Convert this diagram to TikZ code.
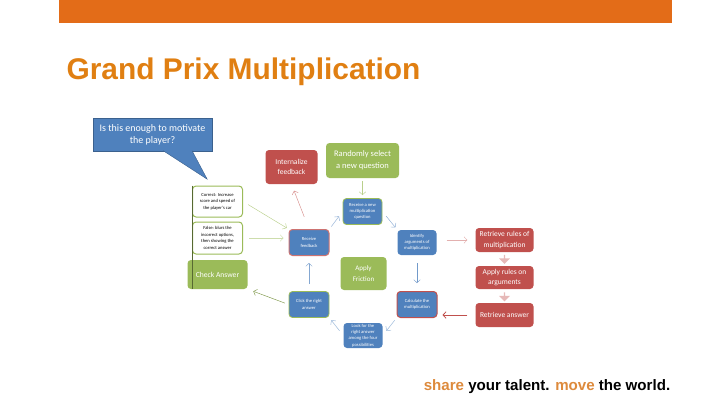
\documentclass[tikz,border=0pt]{standalone}
\usepackage{fontspec}
\setmainfont{Carlito}
\newfontfamily\arialfont{Liberation Sans}
\usepackage{xcolor}
\usetikzlibrary{calc, shapes, shapes.arrows, arrows.meta, positioning}
\definecolor{bannerorange}{HTML}{E36C18}
\definecolor{titleorange}{HTML}{E07F12}
\definecolor{tagorange}{HTML}{DD8A3C}
\definecolor{officeblue}{HTML}{4F81BD}
\definecolor{officered}{HTML}{C0504D}
\definecolor{officegreen}{HTML}{9BBB59}
\definecolor{palered}{HTML}{E6B9B8}
\tikzset{
    every node/.style = {node distance=0em, align=center, inner sep=0em},
    textnode/.style  = {draw=none, fill=none, rectangle, font=\arialfont\bfseries},
    roundnode/.style = {draw=none, rectangle, rounded corners=0.35em, text=white, font=\fontsize{8.5}{11}\selectfont},
    greennode/.style = {roundnode, fill=officegreen},
    rednode/.style   = {roundnode, fill=officered, font=\fontsize{7.5}{10.5}\selectfont},
    bluenode/.style  = {roundnode, fill=officeblue, font=\fontsize{4.6}{6.2}\selectfont},
    whitenode/.style = {roundnode, draw=officegreen, line width=1pt, fill=white, text=black, font=\fontsize{4.6}{6.4}\selectfont},
    blockarrow/.style = {single arrow, fill=palered, shape border rotate=270, single arrow head extend=1.5pt, minimum width=11pt, minimum height=9pt},
    connect/.style = {-{Straight Barb[length=3pt,width=6.5pt]}, line width=0.45pt},
    calloutline/.style = {draw=officeblue!75!black, fill=officeblue},
}
\begin{document}
\begin{tikzpicture}
    \useasboundingbox (0pt,0pt) rectangle (720pt,-405pt);
    \node [draw=none, fill=bannerorange, name=Banner, minimum width=613pt, minimum height=23pt] at (365.5pt,-11.5pt) {};
    \node [textnode, name=Title, text=titleorange, font=\arialfont\bfseries\fontsize{29.9}{32}\selectfont, below of=Banner, xshift=-122pt, yshift=-60pt] {Grand Prix Multiplication};

    % main cycle
    \node [greennode, name=Randomly, minimum width=73pt, minimum height=35pt] at (362.5pt,-160.5pt) {Randomly select\\[1pt]a new question};
    \node [rednode, name=Internalize, left of=Randomly, xshift=-71pt, yshift=-6.5pt, minimum width=52pt, minimum height=34pt] {Internalize\\feedback};
    \node [bluenode, name=ReceiveNew, below of=Randomly, yshift=-51pt, minimum width=39pt, minimum height=26pt, draw=officegreen, line width=0.8pt] {Receive a new\\multiplication\\question};
    \node [bluenode, name=Identify, right of=ReceiveNew, xshift=54.5pt, yshift=-31pt, minimum width=39pt, minimum height=25pt] {Identify\\arguments of\\multiplication};
    \node [greennode, name=Friction, below of=ReceiveNew, xshift=1pt, yshift=-62pt, minimum width=46pt, minimum height=33pt, font=\fontsize{7}{11}\selectfont] {Apply\\Friction};
    \node [bluenode, name=Calculate, below of=Identify, yshift=-62pt, minimum width=40pt, minimum height=26pt, draw=officered, line width=1pt] {Calculate the\\multiplication};
    \node [bluenode, name=LookFor, below of=Friction, xshift=-0.5pt, yshift=-62pt, minimum width=39pt, minimum height=25pt] {Look for the\\right answer\\among the four\\possibilities};
    \node [bluenode, name=ClickRight, left of=Calculate, xshift=-108pt, minimum width=40pt, minimum height=26pt, draw=officegreen, line width=0.8pt] {Click the right\\answer};
    \node [bluenode, name=Feedback, above of=ClickRight, yshift=62pt, minimum width=40pt, minimum height=26pt, draw=officered!80, line width=1pt] {Receive\\feedback};

    % multiplication rules
    \node [rednode, name=RulesBox, right of=Identify, xshift=87.5pt, yshift=2.5pt, minimum width=58pt, minimum height=24pt] {Retrieve rules of\\multiplication};
    \node [rednode, name=ApplyRules, below of=RulesBox, yshift=-37.5pt, minimum width=58pt, minimum height=23pt] {Apply rules on\\arguments};
    \node [rednode, name=RetrieveAns, below of=ApplyRules, yshift=-37.5pt, minimum width=58pt, minimum height=24pt] {Retrieve answer};
    \node [blockarrow, name=ArrowOne, below of=RulesBox, yshift=-19pt] {};
    \node [blockarrow, name=ArrowTwo, below of=ApplyRules, yshift=-19pt] {};

    % answer check
    \node [greennode, name=CheckAns, left of=ClickRight, xshift=-91.5pt, yshift=30pt, minimum width=60pt, minimum height=29pt, font=\fontsize{7.6}{10}\selectfont] {Check Answer};
    \node [whitenode, name=FalseBox, above of=CheckAns, yshift=36.5pt, minimum width=50pt, minimum height=32pt] {False: blurs the\\incorrect options,\\then showing the\\correct answer};
    \node [whitenode, name=CorrectBox, above of=FalseBox, yshift=36.5pt, minimum width=50pt, minimum height=31pt] {Correct: Increase\\score and speed of\\the player's car};
    \draw [black!30!officegreen!80!black, line width=0.8pt] (CorrectBox.north west) -- (CorrectBox.north west |- CheckAns.south);

    \node [rectangle, calloutline, text=white, name=Motivate, minimum width=119pt, minimum height=33pt,
        font=\fontsize{10}{12}\selectfont] at (152.5pt,-134.5pt) {Is this enough to motivate\\the player?};
    \coordinate (MotivateTip) at ($(Motivate.south east)+(-5pt,-28pt)$);
    \draw [calloutline] ($(Motivate.south)+(10.5pt,0.6pt)$) -- (MotivateTip) -- ($(Motivate.south)+(39.5pt,0.6pt)$);

    % connectors
    \draw [connect, officegreen!70, shorten <=6pt, shorten >=2pt] (CorrectBox.east) -- (Feedback.north west);
    \draw [connect, officegreen!50, shorten <=6pt, shorten >=5pt] (FalseBox.east) -- (Feedback.west |- FalseBox.east);
    \draw [connect, officered!65, shorten <=13pt, shorten >=7pt] (Feedback.north) -- (Internalize.south);
    \draw [connect, officeblue!65, shorten <=3pt, shorten >=6pt] (Feedback.north east) -- (ReceiveNew.west);
    \draw [connect, officegreen!70, shorten <=3pt, shorten >=3pt] (Randomly.south) -- (ReceiveNew.north);
    \draw [connect, officeblue!65, shorten <=6pt, shorten >=3pt] (ReceiveNew.east) -- (Identify.north west);
    \draw [connect, officered!45, shorten <=10pt, shorten >=8pt] (Identify.east |- RulesBox.west) -- (RulesBox.west);
    \draw [connect, officeblue!80, shorten <=8pt, shorten >=8pt] (Identify.south) -- (Calculate.north);
    \draw [connect, officered, line width=0.8pt, shorten <=8pt, shorten >=5pt] (RetrieveAns.west) -- (Calculate.east |- RetrieveAns.west);
    \draw [connect, officeblue!60, shorten <=3pt, shorten >=6pt] (Calculate.south west) -- (LookFor.east);
    \draw [connect, officeblue!60, shorten <=6pt, shorten >=3pt] (LookFor.west) -- (ClickRight.south east);
    \draw [connect, officeblue!70, shorten <=7pt, shorten >=7pt] (ClickRight.north) -- (Feedback.south);
    \draw [connect, officegreen!80!black, shorten <=4pt, shorten >=6pt] (ClickRight.west) -- (CheckAns.south east);

    % tag line
    \node [textnode, name=Tagline, font=\arialfont\bfseries\fontsize{15.1}{17}\selectfont] at (547pt,-386.5pt) {\textcolor{tagorange}{share} your talent. \textcolor{tagorange}{move} the world.};
\end{tikzpicture}
\end{document}
